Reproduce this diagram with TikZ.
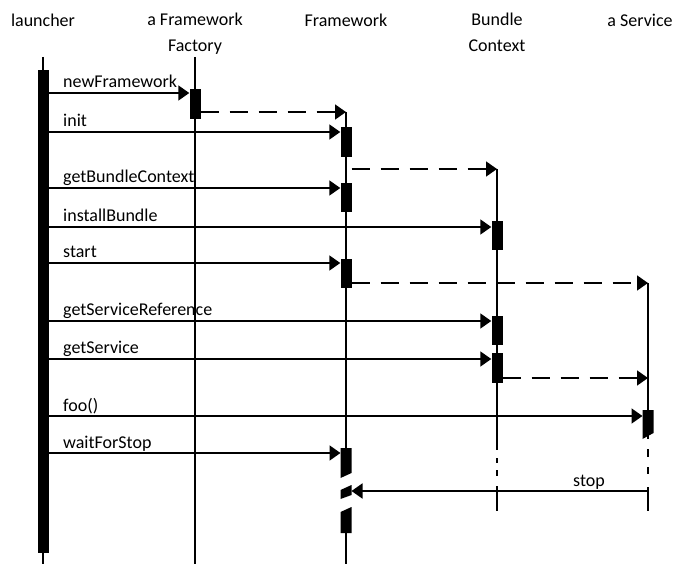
\documentclass[tikz,border=0pt]{standalone}
\usepackage{fontspec}
\setmainfont{Carlito}
\usetikzlibrary{arrows.meta}
\begin{document}
\begin{tikzpicture}[x=1pt,y=-1pt,
  life/.style={line width=1.7pt},
  msg/.style={line width=1.7pt,-{Triangle[length=11pt,width=15pt]}},
  reply/.style={msg,dash pattern=on 18pt off 11pt},
  actbar/.style={fill=black,draw=none,inner sep=0pt,minimum width=11pt,anchor=north},
  lbl/.style={font=\fontsize{18}{22}\selectfont,anchor=base west,inner sep=0pt},
  head/.style={font=\fontsize{18}{26}\selectfont,align=center,inner sep=0pt}]

\useasboundingbox (0,0) rectangle (678,564);

% lifeline heads
\node[head,anchor=base]  (hL) at (43,27)  {launcher};
\node[head,anchor=north] (hF) at (195,13) {a Framework\\Factory};
\node[head,anchor=base]  (hW) at (346,27) {Framework};
\node[head,anchor=north] (hB) at (497,13) {Bundle\\Context};
\node[head,anchor=base]  (hS) at (640,27) {a Service};
\coordinate (lS) at (648,0);

% lifelines
\draw[life] (hL.south |- 0,57) -- (hL.south |- 0,564);
\draw[life] (hF.south |- 0,57) -- (hF.south |- 0,564);
\draw[life] (hW.south |- 0,112) -- (hW.south |- 0,470);
\draw[life] (hW.south |- 0,515) -- (hW.south |- 0,564);
\draw[life] (hB.south |- 0,169) -- (hB.south |- 0,450);
\draw[life] (hB.south |- 0,458) -- (hB.south |- 0,463);
\draw[life] (hB.south |- 0,470) -- (hB.south |- 0,476);
\draw[life] (hB.south |- 0,486) -- (hB.south |- 0,511);
\draw[life] (lS |- 0,283) -- (lS |- 0,439);
\draw[life] (lS |- 0,449) -- (lS |- 0,457);
\draw[life] (lS |- 0,467) -- (lS |- 0,474);
\draw[life] (lS |- 0,487) -- (lS |- 0,511);

% activation bars
\node[actbar,minimum height=483pt] (bL)  at (43,70)   {};
\node[actbar,minimum height=30pt]  (bF)  at (195,89)  {};
\node[actbar,minimum height=30pt]  (bW1) at (346,127) {};
\node[actbar,minimum height=29pt]  (bW2) at (346,183) {};
\node[actbar,minimum height=29pt]  (bB1) at (497,221) {};
\node[actbar,minimum height=29pt]  (bW3) at (346,259) {};
\node[actbar,minimum height=29pt]  (bB2) at (497,316) {};
\node[actbar,minimum height=30pt]  (bB3) at (497,353) {};
\fill (642.5,410) -- (653.5,410) -- (653.5,433) -- (642.5,439) -- cycle;
\coordinate (bSw) at (642.5,416);
\fill (340.5,448) -- (351.5,448) -- (351.5,473) -- (340.5,478) -- cycle;
\coordinate (bW4w) at (340.5,453);
\fill (340.5,490) -- (351.5,485) -- (351.5,495) -- (340.5,499) -- cycle;
\coordinate (bW5e) at (351.5,491);
\fill (340.5,512) -- (351.5,507) -- (351.5,533) -- (340.5,533) -- cycle;

% messages
\draw[msg]   (bL.east |- 0,93)  -- (bF.west |- 0,93);
\node[lbl] (t1) at (63,88) {newFramework};
\draw[reply] (bF.east |- 0,112) -- (hW.south |- 0,112);
\draw[msg]   (bL.east |- 0,132) -- (bW1.west |- 0,132);
\node[lbl] (t2) at (63,127) {init};
\draw[reply] (bW1.east |- 0,169) -- (hB.south |- 0,169);
\draw[msg]   (bL.east |- 0,188) -- (bW2.west |- 0,188);
\node[lbl] (t3) at (63,183) {getBundleContext};
\draw[msg]   (bL.east |- 0,227) -- (bB1.west |- 0,227);
\node[lbl] (t4) at (63,222) {installBundle};
\draw[msg]   (bL.east |- 0,263) -- (bW3.west |- 0,263);
\node[lbl] (t5) at (63,258) {start};
\draw[reply] (bW3.east |- 0,283) -- (lS |- 0,283);
\draw[msg]   (bL.east |- 0,321) -- (bB2.west |- 0,321);
\node[lbl] (t6) at (63,316) {getServiceReference};
\draw[msg]   (bL.east |- 0,359) -- (bB3.west |- 0,359);
\node[lbl] (t7) at (63,354) {getService};
\draw[reply] (bB3.east |- 0,378) -- (lS |- 0,378);
\draw[msg]   (bL.east |- 0,416) -- (bSw);
\node[lbl] (t8) at (63,411) {foo()};
\draw[msg]   (bL.east |- 0,453) -- (bW4w);
\node[lbl] (t9) at (63,448) {waitForStop};
\draw[msg]   (lS |- 0,491) -- (bW5e);
\node[lbl,anchor=base] (t10) at (589,486) {stop};
\end{tikzpicture}
\end{document}
